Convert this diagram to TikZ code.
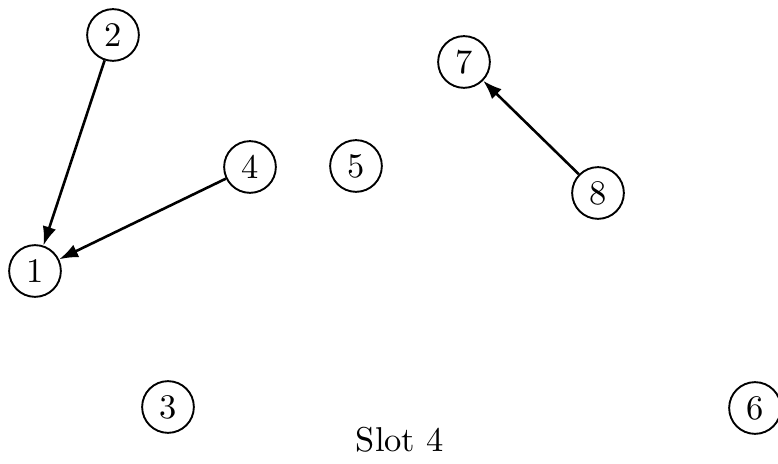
\documentclass[tikz,border=0pt]{standalone}
\usetikzlibrary{arrows.meta}
\begin{document}
\begin{tikzpicture}[x=0.29pt,y=-0.29pt,
  vert/.style={circle,draw,line width=0.55pt,minimum size=15pt,inner sep=0pt,font=\normalsize},
  edge/.style={line width=0.75pt,-{Latex[length=5.5pt,width=4pt]}}]
\useasboundingbox (0,0) rectangle (778,464);
\node[vert] (n2) at (113,35) {2};
\node[vert] (n7) at (464,62) {7};
\node[vert] (n4) at (250,167) {4};
\node[vert] (n5) at (356,166) {5};
\node[vert] (n8) at (598,193) {8};
\node[vert] (n1) at (35,271) {1};
\node[vert] (n3) at (168,407) {3};
\node[vert] (n6) at (755,408) {6};
\node (slot) at (400,440) {Slot 4};
\draw[edge] (n2) -- (n1);
\draw[edge] (n4) -- (n1);
\draw[edge] (n8) -- (n7);
\end{tikzpicture}
\end{document}
